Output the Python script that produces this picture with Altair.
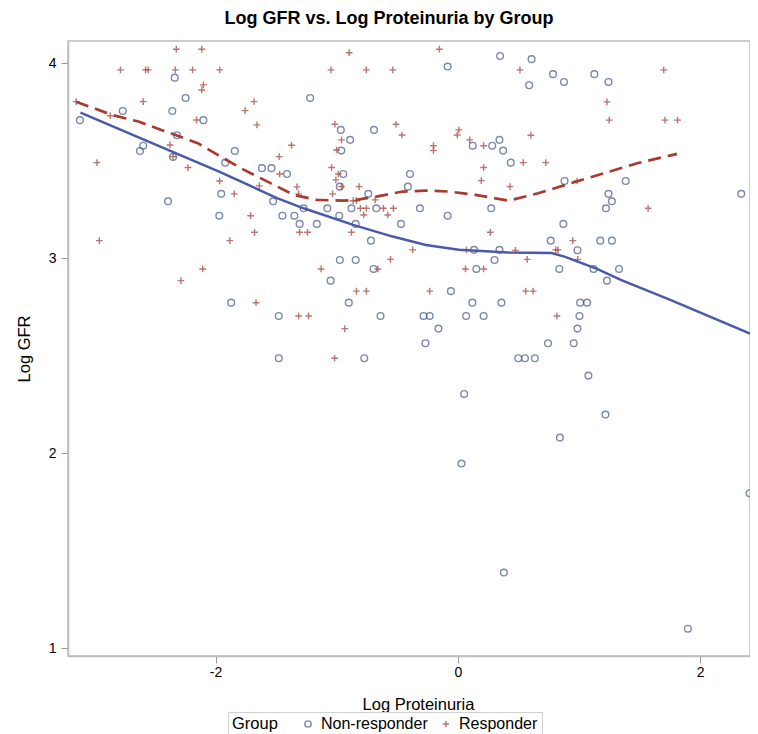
import altair as alt
import pandas as pd

# ---- data ----
non_x = [-2.337, -2.247, -2.766, -2.357, -2.100, -3.120, -2.318, -2.597, -2.624, -2.351,
         -1.841, -1.920, -1.617, -1.538, -1.410, -1.953, -2.392, -1.525, -1.969, -1.448, -1.349,
         0.349, -0.084, -1.219, -0.966, -0.692, -0.889, -0.962, 0.344, 0.123, 0.284,
         0.374, 0.437, -0.946, -0.395, -0.974, -0.412, -0.739, -1.273, -1.077, -0.878,
         -0.673, -0.313, 0.276, -0.979, -0.084, -1.306, -1.164, -0.843, -0.469, -0.717,
         0.134, 0.344, 0.303, -0.974, -0.843, -0.696, 0.153,
         0.609, 0.589, 0.786, 0.876, 1.127, 1.244, 0.881, 1.386, 1.244, 1.272,
         1.223, 2.340, 0.871, 0.767, 1.176, 1.272, 0.988, 0.838, 1.331, 1.121,
         -1.871, -1.478, -1.478, -1.050, -0.057, -0.900, 0.120, 0.360, -0.638, -0.283,
         -0.232, 0.069, 0.213, -0.160, -0.267, -0.772, 0.052, 1.231, 1.010, 1.067,
         1.004, 0.988, 0.745, 0.957, 0.499, 0.554, 0.636, 1.078, 1.219, 0.843,
         0.030, 0.380, 1.899, 2.409]
non_y = [3.926, 3.822, 3.755, 3.755, 3.708, 3.708, 3.631, 3.577, 3.550, 3.519,
         3.550, 3.490, 3.462, 3.462, 3.432, 3.330, 3.292, 3.292, 3.218, 3.218, 3.218,
         4.037, 3.983, 3.822, 3.658, 3.658, 3.607, 3.552, 3.607, 3.577, 3.577,
         3.552, 3.490, 3.432, 3.432, 3.367, 3.367, 3.330, 3.256, 3.256, 3.256,
         3.256, 3.256, 3.256, 3.218, 3.218, 3.176, 3.176, 3.176, 3.176, 3.090,
         3.043, 3.043, 2.991, 2.991, 2.991, 2.945, 2.945,
         4.021, 3.887, 3.944, 3.904, 3.944, 3.904, 3.396, 3.396, 3.330, 3.292,
         3.256, 3.330, 3.176, 3.090, 3.090, 3.090, 3.041, 2.945, 2.945, 2.945,
         2.772, 2.704, 2.487, 2.885, 2.831, 2.772, 2.772, 2.772, 2.704, 2.704,
         2.704, 2.704, 2.704, 2.639, 2.564, 2.487, 2.304, 2.885, 2.772, 2.772,
         2.704, 2.639, 2.564, 2.564, 2.487, 2.487, 2.487, 2.398, 2.198, 2.080,
         1.947, 1.388, 1.100, 1.795]

res_x = [-2.324, -2.114, -2.785, -2.578, -2.556, -2.332, -2.190, -1.966, -2.100, -2.114,
         -3.151, -2.597, -1.682, -1.756, -2.869, -2.157, -1.658, -2.376, -1.373, -1.475,
         -2.351, -2.979, -2.228, -1.471, -1.966, -1.639, -1.846, -1.710, -1.678, -2.959,
         -1.882, -2.106, -1.328, -0.897, -0.152, -1.047, -0.755, -0.537, -1.015, -0.510,
         -0.461, -0.960, 0.008, -0.005, 0.098, 0.213, -0.201, -0.201, -1.001, -1.042,
         -0.987, -1.007, 0.213, 0.194, 0.431, -0.815, -0.960, -1.034, -1.314, -0.682,
         -0.864, -0.837, -0.804, -0.755, -0.614, -0.532, -0.578, -0.777, -1.306, -1.241,
         -0.878, 0.268, -0.373, -0.556, -1.129, -0.660, 0.063, 0.213, 0.071, 0.476,
         0.513, 1.700, 1.231, 1.250, 1.710, 1.814, 0.603, 0.540, 0.726, 0.985,
         1.571, 0.949, 0.808, 0.827, 0.573, 0.990, -2.286, -1.666, -1.314, -1.232,
         -0.837, -0.755, -0.232, -0.933, -1.017, 0.560, 0.622, 0.818]
res_y = [4.072, 4.072, 3.966, 3.966, 3.966, 3.966, 3.966, 3.966, 3.889, 3.863,
         3.803, 3.803, 3.803, 3.757, 3.731, 3.709, 3.684, 3.581, 3.579, 3.521,
         3.521, 3.490, 3.465, 3.432, 3.396, 3.371, 3.330, 3.218, 3.133, 3.090,
         3.090, 2.945, 3.366, 4.054, 4.072, 3.966, 3.966, 3.966, 3.687, 3.687,
         3.632, 3.607, 3.658, 3.632, 3.607, 3.577, 3.577, 3.552, 3.555, 3.465,
         3.432, 3.402, 3.465, 3.398, 3.367, 3.367, 3.367, 3.330, 3.330, 3.299,
         3.295, 3.295, 3.256, 3.256, 3.256, 3.256, 3.222, 3.222, 3.133, 3.133,
         3.133, 3.133, 3.043, 2.994, 2.945, 2.945, 2.945, 2.945, 3.043, 3.040,
         3.966, 3.966, 3.802, 3.708, 3.708, 3.708, 3.631, 3.490, 3.490, 3.396,
         3.256, 3.090, 3.043, 3.043, 2.994, 2.994, 2.885, 2.772, 2.704, 2.704,
         2.831, 2.831, 2.831, 2.639, 2.487, 2.831, 2.831, 2.704]

# loess curves
fit_non_x = [-3.115, -1.966, -1.492, -1.273, -0.864, -0.537, -0.264, 0.008, 0.415,
             0.773, 0.881, 1.154, 1.345, 1.754, 2.412]
fit_non_y = [3.747, 3.443, 3.308, 3.256, 3.171, 3.111, 3.068, 3.043, 3.029,
             3.027, 3.008, 2.944, 2.889, 2.786, 2.614]
fit_res_x = [-3.151, -2.856, -2.637, -2.447, -2.146, -1.983, -1.764, -1.547, -1.355,
             -1.164, -0.946, -0.837, -0.673, -0.455, -0.264, -0.074, 0.145, 0.417,
             0.663, 0.936, 1.209, 1.481, 1.809]
fit_res_y = [3.803, 3.735, 3.701, 3.658, 3.590, 3.530, 3.453, 3.385, 3.325,
             3.299, 3.295, 3.299, 3.316, 3.342, 3.347, 3.342, 3.325, 3.295,
             3.333, 3.385, 3.436, 3.487, 3.535]

groups = ["Non-responder", "Responder"]
colors = ["#445694", "#A23A2E"]
shapes = ["circle", "M-1,0L1,0M0,-1L0,1"]
x_ticks = [-2, 0, 2]
y_ticks = [1, 2, 3, 4]

pts = pd.DataFrame({
    "x": non_x + res_x,
    "y": non_y + res_y,
    "Group": [groups[0]] * len(non_x) + [groups[1]] * len(res_x),
})
fit_non = pd.DataFrame({"x": fit_non_x, "y": fit_non_y})
fit_res = pd.DataFrame({"x": fit_res_x, "y": fit_res_y})

FONT = "Liberation Sans"
W, H = 682, 615
xs = alt.Scale(domain=[-3.218, 2.412], nice=False, zero=False)
ys = alt.Scale(domain=[0.96, 4.114], nice=False, zero=False)

xaxis = alt.Axis(values=x_ticks, labelExpr="'' + datum.value", title="Log Proteinuria",
                 grid=False, tickSize=7, labelPadding=2,
                 titleX=350, titleY=53, titleBaseline="alphabetic", titleAlign="center")
yaxis = alt.Axis(values=y_ticks, labelExpr="'' + datum.value", title="Log GFR",
                 grid=False, tickSize=7, labelPadding=5,
                 titleAngle=270, titleX=-44, titleY=307.5,
                 titleBaseline="middle", titleAlign="center")

leg = alt.Legend(title="Group", orient="none", legendX=160, legendY=671,
                 direction="horizontal", titleOrient="left",
                 titleFontWeight="normal", titleFontSize=16.5, titleFont=FONT, titleColor="#000",
                 labelFontSize=16, labelFont=FONT, labelColor="#000",
                 strokeColor="#d0d0d0", padding=4, titlePadding=22,
                 columnPadding=10, labelOffset=5, symbolSize=40, symbolStrokeWidth=1.4)

points = alt.Chart(pts).mark_point(filled=False, size=45, strokeWidth=1.4, clip=True).encode(
    x=alt.X("x:Q", scale=xs, axis=xaxis),
    y=alt.Y("y:Q", scale=ys, axis=yaxis),
    color=alt.Color("Group:N", scale=alt.Scale(domain=groups, range=colors), legend=leg),
    shape=alt.Shape("Group:N", scale=alt.Scale(domain=groups, range=shapes), legend=leg),
)

line_non = alt.Chart(fit_non).mark_line(color="#4A5AA8", strokeWidth=2.5, clip=True).encode(
    x=alt.X("x:Q", scale=xs), y=alt.Y("y:Q", scale=ys))
line_res = alt.Chart(fit_res).mark_line(color="#A83A30", strokeWidth=2.7, strokeDash=[13, 7],
                                        clip=True).encode(
    x=alt.X("x:Q", scale=xs), y=alt.Y("y:Q", scale=ys))

chart = alt.layer(points, line_non, line_res).properties(
    width=W, height=H,
    autosize=alt.AutoSizeParams(type="none"),
    padding={"left": 60, "top": 33, "right": 0, "bottom": 78},
    title=alt.TitleParams("Log GFR vs. Log Proteinuria by Group", font=FONT, fontSize=18,
                          fontWeight="bold", color="#000", anchor="middle", dx=-20, dy=3,
                          baseline="alphabetic", offset=2),
).configure_view(stroke="#bdbdbd", strokeWidth=1.5).configure_axis(
    domainColor="#bdbdbd", domainWidth=1.5, tickColor="#9a9a9a", tickWidth=1,
    labelFont=FONT, labelFontSize=14, labelColor="#000",
    titleFont=FONT, titleFontSize=16.5, titleFontWeight="normal", titleColor="#000",
)

chart.save("out.html", embed_options={"renderer": "svg", "actions": False})
